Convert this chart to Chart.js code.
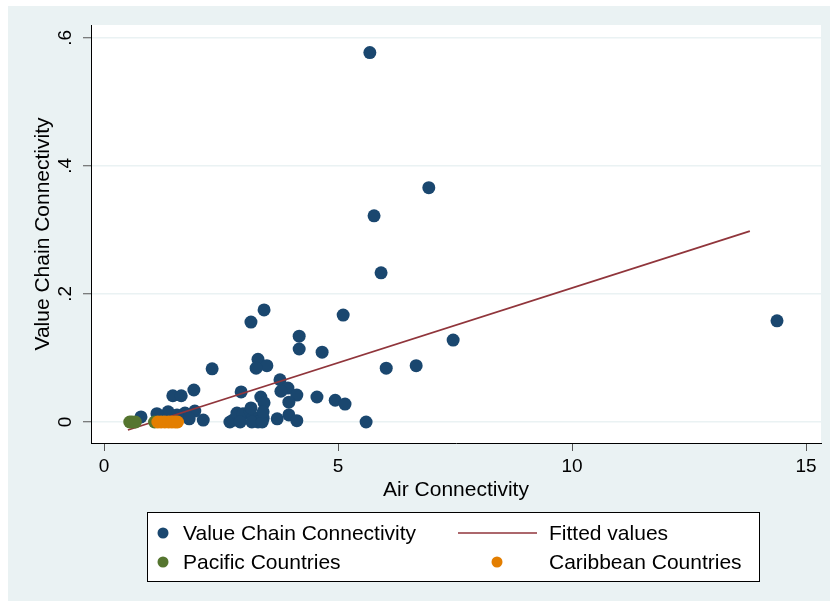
<!DOCTYPE html>
<html>
<head>
<meta charset="utf-8">
<script src="https://cdn.jsdelivr.net/npm/chart.js@4.4.1/dist/chart.umd.min.js"></script>
<style>
    body { margin: 0; background: #fff; }
    canvas { display: block; }
</style>
</head>
<body>
<canvas id="scatterChart" width="830" height="604"></canvas>
<script>
// Value Chain Connectivity (all countries)
const vcX = [5.68, 6.94, 5.77, 5.92, 14.38, 7.46, 6.67, 6.03, 5.11, 4.66,
    4.17, 4.17, 3.42, 3.14, 3.29, 3.48, 3.25, 2.31, 3.76, 3.93,
    3.78, 2.93, 4.55, 4.94, 5.15, 5.60, 4.12, 3.95, 3.95, 4.12,
    3.35, 3.42, 1.92, 1.47, 1.65, 1.94, 1.37, 1.13, 0.79, 1.73,
    1.56, 1.82, 2.12, 2.69, 2.76, 2.84, 2.97, 3.12, 3.18, 3.40,
    3.29, 3.70, 2.91, 3.16, 3.38, 3.14, 3.40];
const vcY = [0.577, 0.366, 0.322, 0.233, 0.158, 0.128, 0.088, 0.084, 0.167, 0.109,
    0.134, 0.114, 0.175, 0.156, 0.098, 0.088, 0.084, 0.083, 0.066, 0.053,
    0.048, 0.047, 0.039, 0.034, 0.028, 0.0, 0.042, 0.031, 0.011, 0.002,
    0.039, 0.030, 0.050, 0.041, 0.041, 0.017, 0.016, 0.013, 0.008, 0.014,
    0.011, 0.005, 0.003, 0.0, 0.003, 0.014, 0.013, 0.017, 0.008, 0.006,
    0.0, 0.005, 0.0, 0.0, 0.0, 0.022, 0.016];

// Fitted line end points
const fitX = [0.51, 13.8];
const fitY = [-0.0125, 0.298];

// Pacific and Caribbean countries
const pacX = [0.55, 0.60, 0.67, 1.08];
const pacY = [0, 0, 0, 0];
const carX = [1.15, 1.22, 1.30, 1.38, 1.45, 1.52, 1.57];
const carY = [0, 0, 0, 0, 0, 0, 0];

// Axis ticks
const xTicks = [0, 5, 10, 15];
const xTickLabels = ['0', '5', '10', '15'];
const yTicks = [0, 0.2, 0.4, 0.6];
const yTickLabels = ['0', '.2', '.4', '.6'];

const FONT = '"Liberation Sans", Arial, Helvetica, sans-serif';

const toPoints = (xs, ys) => xs.map((x, i) => ({ x: x, y: ys[i] }));

// Background: outer graph region + white plot region
const backgroundPlugin = {
    id: 'stataBackground',
    beforeDraw(chart) {
        const { ctx, chartArea } = chart;
        ctx.save();
        ctx.fillStyle = '#ffffff';
        ctx.fillRect(0, 0, chart.width, chart.height);
        ctx.fillStyle = '#EAF2F3';
        ctx.fillRect(8, 6, chart.width - 8, 595);
        ctx.fillStyle = '#ffffff';
        ctx.fillRect(chartArea.left, chartArea.top, chartArea.right - chartArea.left, chartArea.bottom - chartArea.top);
        ctx.restore();
    }
};

// Rotated y tick labels and the two-column legend
const overlayPlugin = {
    id: 'stataOverlay',
    afterDraw(chart) {
        const { ctx } = chart;
        const yScale = chart.scales.y;
        ctx.save();
        ctx.fillStyle = '#000';
        ctx.font = '19px ' + FONT;
        ctx.textAlign = 'center';
        ctx.textBaseline = 'middle';
        yTicks.forEach((v, i) => {
            const py = yScale.getPixelForValue(v);
            ctx.save();
            ctx.translate(66, py);
            ctx.rotate(-Math.PI / 2);
            ctx.fillText(yTickLabels[i], 0, 0);
            ctx.restore();
        });

        // Legend box
        const box = { x: 147, y: 512, w: 612, h: 69 };
        ctx.fillStyle = '#fff';
        ctx.fillRect(box.x, box.y, box.w, box.h);
        ctx.strokeStyle = '#000';
        ctx.lineWidth = 1;
        ctx.strokeRect(box.x + 0.5, box.y + 0.5, box.w, box.h);

        const ds = chart.data.datasets;
        const slots = [
            { d: 0, mx: 163, tx: 183, y: 533 },
            { d: 1, mx: 497, tx: 549, y: 533 },
            { d: 2, mx: 163, tx: 183, y: 562 },
            { d: 3, mx: 497, tx: 549, y: 562 }
        ];
        ctx.font = '21px ' + FONT;
        ctx.textAlign = 'left';
        slots.forEach(s => {
            const d = ds[s.d];
            if (d.showLine) {
                ctx.strokeStyle = d.borderColor;
                ctx.lineWidth = 1.5;
                ctx.beginPath();
                ctx.moveTo(458, s.y);
                ctx.lineTo(537, s.y);
                ctx.stroke();
            } else {
                ctx.fillStyle = d.backgroundColor;
                ctx.beginPath();
                ctx.arc(s.mx, s.y, 5.5, 0, Math.PI * 2);
                ctx.fill();
            }
            ctx.fillStyle = '#000';
            ctx.fillText(d.label, s.tx, s.y + 1);
        });
        ctx.restore();
    }
};

const chart = new Chart(document.getElementById('scatterChart'), {
    type: 'scatter',
    data: {
        datasets: [
            {
                label: 'Value Chain Connectivity',
                data: toPoints(vcX, vcY),
                backgroundColor: '#1A476F',
                borderWidth: 0,
                pointRadius: 6.5,
                order: 4
            },
            {
                label: 'Fitted values',
                data: toPoints(fitX, fitY),
                showLine: true,
                borderColor: '#90353B',
                borderWidth: 1.8,
                pointRadius: 0,
                order: 3
            },
            {
                label: 'Pacific Countries',
                data: toPoints(pacX, pacY),
                backgroundColor: '#55752F',
                borderWidth: 0,
                pointRadius: 6.5,
                order: 2
            },
            {
                label: 'Caribbean Countries',
                data: toPoints(carX, carY),
                backgroundColor: '#E37E00',
                borderWidth: 0,
                pointRadius: 6.5,
                order: 1
            }
        ]
    },
    options: {
        responsive: false,
        animation: false,
        layout: {
            padding: { top: 25, right: 9, left: 0, bottom: 0 }
        },
        plugins: {
            legend: { display: false },
            tooltip: { enabled: false }
        },
        scales: {
            x: {
                type: 'linear',
                min: -0.278,
                max: 15.32,
                afterBuildTicks: (scale) => { scale.ticks = xTicks.map(v => ({ value: v })); },
                afterFit: (scale) => { scale.height = 161; },
                ticks: {
                    color: '#000',
                    padding: 4,
                    maxRotation: 0,
                    font: { family: FONT, size: 19 },
                    callback: (v) => xTickLabels[xTicks.indexOf(v)]
                },
                grid: {
                    drawOnChartArea: false,
                    drawTicks: true,
                    tickLength: 8,
                    tickColor: '#555',
                    tickWidth: 1
                },
                border: { color: '#000', width: 1 },
                title: {
                    display: true,
                    text: 'Air Connectivity',
                    color: '#000',
                    font: { family: FONT, size: 21 },
                    padding: { top: 0, bottom: 101 }
                }
            },
            y: {
                type: 'linear',
                min: -0.0328,
                max: 0.62,
                afterBuildTicks: (scale) => { scale.ticks = yTicks.map(v => ({ value: v })); },
                afterFit: (scale) => { scale.width = 91; },
                ticks: { display: false },
                grid: {
                    color: '#EAF2F3',
                    lineWidth: 1.5,
                    drawTicks: true,
                    tickLength: 8,
                    tickColor: '#555',
                    tickWidth: 1
                },
                border: { color: '#000', width: 1 },
                title: {
                    display: true,
                    text: 'Value Chain Connectivity',
                    color: '#000',
                    font: { family: FONT, size: 21 },
                    padding: { top: 31, bottom: 0 }
                }
            }
        }
    },
    plugins: [backgroundPlugin, overlayPlugin]
});
</script>
</body>
</html>
